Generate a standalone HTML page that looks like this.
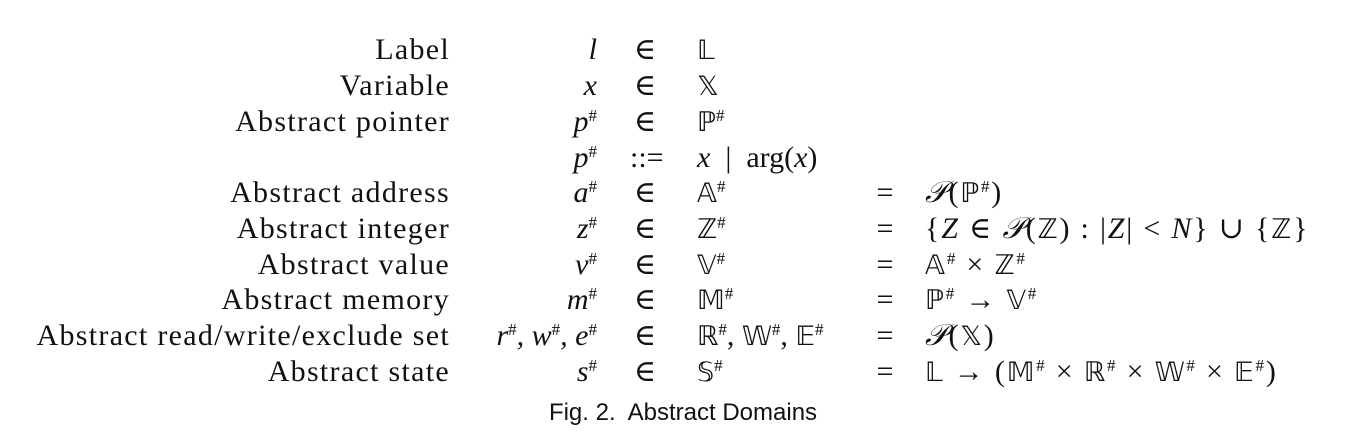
<!DOCTYPE html>
<html><head><meta charset="utf-8"><style>
body{margin:0;width:1366px;height:443px;background:#fff;position:relative;overflow:hidden;font-family:"Liberation Serif","DejaVu Serif",serif;font-size:30px;color:#111}
.r{position:absolute;height:36px;line-height:36px;white-space:nowrap}
.l{right:916px;text-align:right;letter-spacing:1.3px}
.v{right:769px;text-align:right;font-style:italic}
.e{left:630px;width:30px;text-align:center}
.s{left:697px}
.q{left:870px;width:30px;text-align:center}
.d{left:925px;letter-spacing:1.8px}
i{font-style:italic}
sup{font-size:17px;vertical-align:top;line-height:24px;font-style:normal}
.bb{font-family:"DejaVu Sans","DejaVu Serif",serif;font-size:27px}
.cap{position:absolute;top:398px;left:0;width:1366px;text-align:center;font-family:"Liberation Sans","DejaVu Sans",sans-serif;font-size:24px;line-height:30px}
</style></head><body>
<div class="r l" style="top:32px">Label</div><div class="r v" style="top:32px">l</div><div class="r e" style="top:32px">∈</div><div class="r s" style="top:32px"><span class="bb">𝕃</span></div>

<div class="r l" style="top:68px">Variable</div><div class="r v" style="top:68px">x</div><div class="r e" style="top:68px">∈</div><div class="r s" style="top:68px"><span class="bb">𝕏</span></div>

<div class="r l" style="top:104px">Abstract pointer</div><div class="r v" style="top:104px">p<sup>#</sup></div><div class="r e" style="top:104px">∈</div><div class="r s" style="top:104px"><span class="bb">ℙ</span><sup>#</sup></div>

<div class="r v" style="top:140px">p<sup>#</sup></div><div class="r e" style="top:140px">::=</div><div class="r s" style="top:140px"><i>x</i> &nbsp;| &nbsp;arg(<i>x</i>)</div>

<div class="r l" style="top:175px">Abstract address</div><div class="r v" style="top:175px">a<sup>#</sup></div><div class="r e" style="top:175px">∈</div><div class="r s" style="top:175px"><span class="bb">𝔸</span><sup>#</sup></div><div class="r q" style="top:175px">=</div><div class="r d" style="top:175px"><i>𝒫</i>(<span class="bb">ℙ</span><sup>#</sup>)</div>

<div class="r l" style="top:211px">Abstract integer</div><div class="r v" style="top:211px">z<sup>#</sup></div><div class="r e" style="top:211px">∈</div><div class="r s" style="top:211px"><span class="bb">ℤ</span><sup>#</sup></div><div class="r q" style="top:211px">=</div><div class="r d" style="top:211px">{<i>Z</i> ∈ <i>𝒫</i>(<span class="bb">ℤ</span>) : |<i>Z</i>| &lt; <i>N</i>} ∪ {<span class="bb">ℤ</span>}</div>

<div class="r l" style="top:247px">Abstract value</div><div class="r v" style="top:247px">v<sup>#</sup></div><div class="r e" style="top:247px">∈</div><div class="r s" style="top:247px"><span class="bb">𝕍</span><sup>#</sup></div><div class="r q" style="top:247px">=</div><div class="r d" style="top:247px"><span class="bb">𝔸</span><sup>#</sup> × <span class="bb">ℤ</span><sup>#</sup></div>

<div class="r l" style="top:282px">Abstract memory</div><div class="r v" style="top:282px">m<sup>#</sup></div><div class="r e" style="top:282px">∈</div><div class="r s" style="top:282px"><span class="bb">𝕄</span><sup>#</sup></div><div class="r q" style="top:282px">=</div><div class="r d" style="top:282px"><span class="bb">ℙ</span><sup>#</sup> → <span class="bb">𝕍</span><sup>#</sup></div>

<div class="r l" style="top:318px">Abstract read/write/exclude set</div><div class="r v" style="top:318px">r<sup>#</sup>, w<sup>#</sup>, e<sup>#</sup></div><div class="r e" style="top:318px">∈</div><div class="r s" style="top:318px"><span class="bb">ℝ</span><sup>#</sup>, <span class="bb">𝕎</span><sup>#</sup>, <span class="bb">𝔼</span><sup>#</sup></div><div class="r q" style="top:318px">=</div><div class="r d" style="top:318px"><i>𝒫</i>(<span class="bb">𝕏</span>)</div>

<div class="r l" style="top:354px">Abstract state</div><div class="r v" style="top:354px">s<sup>#</sup></div><div class="r e" style="top:354px">∈</div><div class="r s" style="top:354px"><span class="bb">𝕊</span><sup>#</sup></div><div class="r q" style="top:354px">=</div><div class="r d" style="top:354px"><span class="bb">𝕃</span> → (<span class="bb">𝕄</span><sup>#</sup> × <span class="bb">ℝ</span><sup>#</sup> × <span class="bb">𝕎</span><sup>#</sup> × <span class="bb">𝔼</span><sup>#</sup>)</div>

<div class="cap">Fig. 2.&nbsp; Abstract Domains</div>
</body></html>
